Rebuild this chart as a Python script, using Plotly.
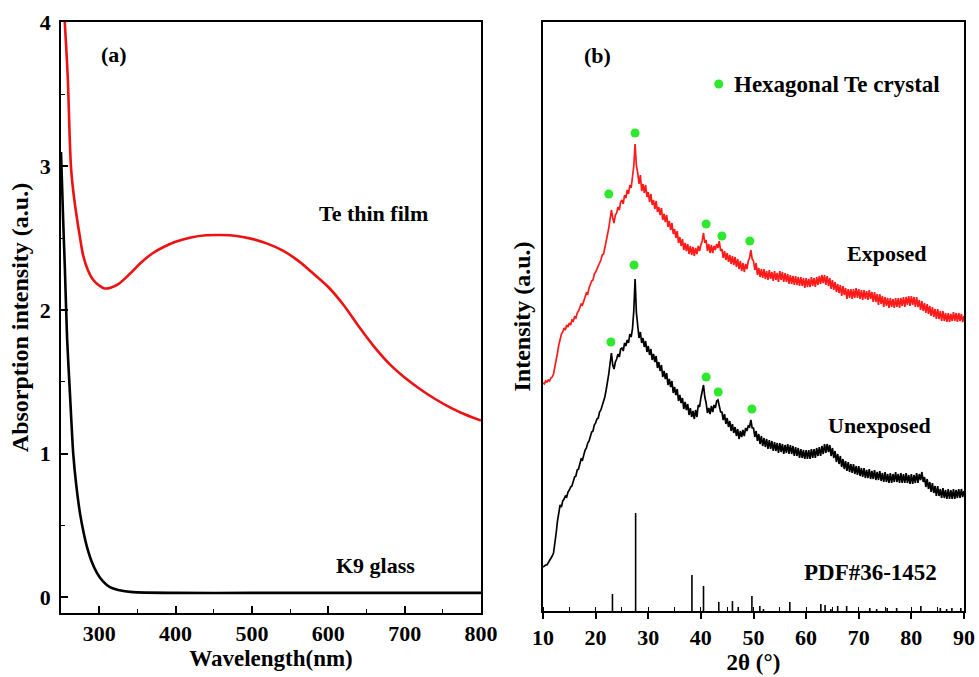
import numpy as np
import plotly.graph_objects as go

# ---------------- Panel (a): absorption spectra ----------------
te_wavelength = [252, 255, 257, 259, 263, 266, 270, 275, 279, 285, 292, 300, 307, 315, 325,
                 340, 355, 370, 385, 400, 420, 440, 460, 480, 500, 520, 540, 560, 580, 600,
                 620, 640, 660, 680, 700, 720, 740, 760, 780, 800]
te_absorption = [4.40, 4.00, 3.81, 3.60, 3.00, 2.83, 2.67, 2.50, 2.38, 2.28, 2.21, 2.17, 2.15,
                 2.155, 2.18, 2.25, 2.33, 2.395, 2.44, 2.475, 2.505, 2.52, 2.522, 2.515, 2.495,
                 2.462, 2.415, 2.345, 2.255, 2.16, 2.035, 1.885, 1.745, 1.625, 1.53, 1.45, 1.38,
                 1.32, 1.27, 1.23]

k9_wavelength = [250, 251.5, 253, 255, 258, 262, 266, 270, 275, 280, 284, 290, 297, 305, 314,
                 325, 344, 400, 500, 600, 700, 800]
k9_absorption = [3.10, 2.85, 2.60, 2.30, 1.80, 1.39, 1.00, 0.78, 0.58, 0.44, 0.35, 0.25, 0.17,
                 0.11, 0.07, 0.05, 0.035, 0.03, 0.03, 0.03, 0.03, 0.03]

# ---------------- Panel (b): XRD patterns (2θ from 10° to 90°, 0.25° steps) ----------------
two_theta = np.arange(10.0, 90.001, 0.25)

exposed = [
    228, 227, 230, 229, 231, 230, 233, 234, 237, 243, 251, 258, 266, 271, 277, 279,
    283, 281, 286, 284, 288, 286, 291, 290, 294, 293, 298, 300, 303, 307, 306, 311,
    314, 318, 317, 323, 326, 330, 331, 337, 339, 342, 345, 349, 351, 356, 357, 363,
    369, 374, 383, 392, 401, 393, 388, 396, 398, 404, 401, 409, 411, 407, 416, 413,
    421, 417, 426, 423, 433, 445, 467, 445, 438, 427, 436, 420, 427, 418, 426, 414,
    419, 409, 417, 406, 411, 402, 410, 399, 404, 396, 403, 391, 397, 389, 396, 384,
    390, 381, 388, 377, 382, 373, 380, 368, 374, 365, 372, 361, 368, 360, 367, 357,
    365, 356, 364, 355, 363, 357, 365, 360, 366, 370, 378, 368, 371, 360, 367, 358,
    366, 358, 365, 361, 367, 363, 370, 360, 362, 353, 360, 351, 358, 349, 356, 347,
    355, 346, 354, 344, 352, 342, 350, 340, 348, 339, 347, 342, 350, 353, 361, 352,
    350, 341, 348, 336, 343, 334, 342, 333, 342, 332, 340, 331, 341, 332, 339, 330,
    340, 331, 338, 329, 340, 331, 339, 329, 338, 329, 337, 327, 336, 327, 335, 326,
    335, 326, 334, 325, 334, 325, 333, 323, 333, 324, 332, 324, 334, 325, 333, 324,
    334, 326, 335, 327, 336, 328, 336, 326, 335, 325, 333, 322, 331, 321, 329, 319,
    327, 318, 326, 315, 325, 316, 323, 312, 322, 313, 322, 312, 322, 313, 323, 313,
    322, 312, 321, 311, 321, 312, 320, 311, 321, 312, 319, 309, 319, 309, 317, 306,
    317, 307, 315, 304, 314, 305, 313, 303, 313, 304, 312, 303, 313, 304, 313, 303,
    313, 305, 314, 304, 314, 306, 315, 305, 315, 306, 314, 304, 314, 304, 311, 301,
    310, 300, 308, 298, 307, 297, 305, 295, 304, 294, 302, 292, 302, 292, 300, 290,
    300, 290, 298, 289, 298, 289, 297, 290, 299, 290, 298, 289, 298, 290, 297, 289,
    295]

unexposed = [
    44, 45, 46, 46, 48, 50, 52, 55, 58, 66, 78, 90, 99, 106, 104, 110,
    112, 115, 114, 119, 121, 124, 125, 131, 134, 135, 141, 142, 147, 152, 151, 158,
    161, 163, 168, 170, 175, 179, 180, 186, 188, 192, 193, 199, 201, 205, 208, 214,
    221, 228, 237, 248, 258, 246, 242, 249, 252, 257, 254, 262, 263, 260, 268, 265,
    271, 268, 277, 274, 282, 300, 332, 298, 281, 273, 279, 268, 273, 264, 270, 259,
    265, 256, 262, 251, 257, 249, 255, 243, 249, 240, 246, 234, 240, 232, 238, 226,
    232, 224, 230, 218, 224, 216, 222, 210, 216, 208, 213, 202, 209, 201, 207, 196,
    203, 194, 200, 192, 201, 194, 206, 204, 213, 220, 226, 214, 208, 198, 203, 197,
    205, 199, 206, 203, 210, 211, 205, 199, 199, 191, 197, 187, 193, 184, 190, 180,
    187, 178, 184, 175, 182, 172, 180, 174, 181, 175, 183, 180, 185, 184, 191, 183,
    183, 174, 180, 170, 177, 167, 175, 165, 173, 164, 172, 162, 171, 162, 170, 160,
    169, 160, 168, 158, 168, 159, 167, 157, 166, 158, 167, 157, 166, 157, 165, 155,
    164, 155, 163, 153, 162, 153, 161, 152, 161, 152, 161, 152, 162, 153, 162, 153,
    163, 155, 164, 155, 165, 157, 167, 158, 167, 159, 166, 155, 163, 153, 160, 149,
    157, 147, 155, 144, 152, 142, 150, 140, 149, 139, 147, 138, 147, 137, 145, 136,
    145, 135, 143, 134, 143, 133, 141, 133, 142, 132, 140, 132, 141, 131, 139, 131,
    140, 130, 138, 129, 139, 129, 137, 128, 138, 128, 137, 129, 139, 129, 137, 128,
    138, 128, 137, 128, 138, 128, 136, 127, 137, 127, 136, 128, 138, 128, 137, 131,
    139, 129, 134, 124, 132, 122, 129, 119, 128, 118, 125, 115, 125, 115, 122, 113,
    123, 113, 121, 112, 122, 112, 121, 112, 122, 112, 121, 113, 122, 113, 122, 114,
    120]

pdf_positions = [23.2, 27.6, 38.3, 40.5, 43.4, 46.0, 47.1, 49.7, 51.2, 51.9, 56.9, 62.8, 63.6,
                 64.7, 66.0, 67.7, 72.1, 73.4, 75.4, 77.2, 81.8, 85.5, 86.7, 87.7, 89.4]
pdf_heights = [17, 98, 36, 25, 9, 10, 4, 15, 5, 2, 9, 7, 6, 2, 5, 5, 3, 2, 3, 3, 5, 3, 2, 3, 3]

exposed_dot_theta = [22.5, 27.5, 41.0, 44.0, 49.3]
exposed_dot_level = [417, 478, 387, 375, 370]
unexposed_dot_theta = [22.9, 27.3, 41.0, 43.3, 49.7]
unexposed_dot_level = [269, 346, 234, 219, 202]

FONT = "Liberation Serif"
GREEN = "#2ee82e"

# The page body margin is removed by a post script, so the figure fills the window.
W, H = 979, 677


def xdom(a, b):
    return [a / W, b / W]


def ydom(bottom, top):
    return [(H - bottom) / H, (H - top) / H]


fig = go.Figure()

fig.add_trace(go.Scatter(x=te_wavelength, y=te_absorption, mode="lines",
                         line=dict(color="#ee1111", width=2.6, shape="spline", smoothing=1.0),
                         xaxis="x", yaxis="y", showlegend=False))
fig.add_trace(go.Scatter(x=k9_wavelength, y=k9_absorption, mode="lines",
                         line=dict(color="black", width=2.6, shape="spline", smoothing=0.6),
                         xaxis="x", yaxis="y", showlegend=False))

# reference sticks
sx, sy = [], []
for p, h in zip(pdf_positions, pdf_heights):
    sx += [p, p, None]
    sy += [0, h, None]
fig.add_trace(go.Scatter(x=sx, y=sy, mode="lines", line=dict(color="black", width=1.6),
                         xaxis="x2", yaxis="y2", showlegend=False))
fig.add_trace(go.Scatter(x=two_theta, y=unexposed, mode="lines",
                         line=dict(color="black", width=1.7),
                         xaxis="x2", yaxis="y2", showlegend=False))
fig.add_trace(go.Scatter(x=two_theta, y=exposed, mode="lines",
                         line=dict(color="#ff1a1a", width=1.7),
                         xaxis="x2", yaxis="y2", showlegend=False))
fig.add_trace(go.Scatter(x=exposed_dot_theta + unexposed_dot_theta,
                         y=exposed_dot_level + unexposed_dot_level, mode="markers",
                         marker=dict(color=GREEN, size=9),
                         xaxis="x2", yaxis="y2", showlegend=False))
# legend dot
fig.add_trace(go.Scatter(x=[43.4], y=[527], mode="markers",
                         marker=dict(color=GREEN, size=9),
                         xaxis="x2", yaxis="y2", showlegend=False))

tickfont = dict(family=FONT, size=22, color="black", weight="bold")
titlefont = dict(family=FONT, size=23, color="black", weight="bold")

fig.update_layout(
    width=W, height=H,
    margin=dict(l=0, r=0, t=0, b=0, autoexpand=False),
    paper_bgcolor="white", plot_bgcolor="white",
    font=dict(family=FONT, color="black"),
    xaxis=dict(domain=xdom(61, 481), range=[250, 800], anchor="y", automargin=False,
               tick0=300, dtick=100, ticks="inside", ticklen=7, tickwidth=1.5,
               tickcolor="black", showline=True, linecolor="black", linewidth=1.8,
               mirror=True, showgrid=False, zeroline=False, tickfont=tickfont,
               ticklabeloverflow="allow",
               minor=dict(dtick=50, tick0=250, ticks="inside", ticklen=4, tickcolor="black",
                          tickwidth=1.2, showgrid=False),
               title=dict(text="Wavelength(nm)", font=titlefont, standoff=3)),
    yaxis=dict(domain=ydom(613, 22), range=[-0.11, 4.005], anchor="x", automargin=False,
               tick0=0, dtick=1, ticks="inside", ticklen=7, tickwidth=1.5,
               tickcolor="black", showline=True, linecolor="black", linewidth=1.8,
               mirror=True, showgrid=False, zeroline=False, tickfont=tickfont,
               ticklabelstandoff=4, ticklabeloverflow="allow",
               minor=dict(dtick=0.5, ticks="inside", ticklen=4, tickcolor="black",
                          tickwidth=1.2, showgrid=False),
               title=dict(text="Absorption intensity (a.u.)",
                          font=dict(family=FONT, size=24, color="black", weight="bold"),
                          standoff=4)),
    xaxis2=dict(domain=xdom(543, 964), range=[10, 90], anchor="y2", automargin=False,
                tick0=10, dtick=10, ticks="outside", ticklen=6, tickwidth=1.5,
                tickcolor="black", showline=True, linecolor="black", linewidth=1.8,
                mirror=True, showgrid=False, zeroline=False, tickfont=tickfont,
                ticklabeloverflow="allow",
                minor=dict(dtick=5, ticks="inside", ticklen=4, tickcolor="black",
                           tickwidth=1.2, showgrid=False),
                title=dict(text="2θ (°)", font=titlefont, standoff=3)),
    yaxis2=dict(domain=ydom(611, 22), range=[0, 589], anchor="x2", automargin=False,
                showticklabels=False, ticks="", showline=True, linecolor="black",
                linewidth=1.8, mirror=True, showgrid=False, zeroline=False,
                title=dict(text="Intensity (a.u.)",
                           font=dict(family=FONT, size=24, color="black", weight="bold"),
                           standoff=4)),
)

ann_font = dict(family=FONT, size=22, color="black", weight="bold")
annotations = [
    dict(text="(a)", x=319, y=3.78, xref="x", yref="y"),
    dict(text="Te thin film", x=659, y=2.67, xref="x", yref="y"),
    dict(text="K9 glass", x=662, y=0.22, xref="x", yref="y"),
    dict(text="(b)", x=20.45, y=556, xref="x2", yref="y2"),
    dict(text="Exposed", x=75.2, y=358, xref="x2", yref="y2"),
    dict(text="Unexposed", x=74.0, y=186, xref="x2", yref="y2"),
    dict(text="PDF#36-1452", x=72.3, y=39, xref="x2", yref="y2", size=23),
    dict(text="Hexagonal Te crystal", x=45.9, y=527, xref="x2", yref="y2", xanchor="left",
         size=23),
]
for a in annotations:
    a.setdefault("xanchor", "center")
    size = a.pop("size", 22)
    a.update(showarrow=False, yanchor="middle", font=dict(ann_font, size=size))
    fig.add_annotation(**a)

fig.write_html(
    "out.html",
    config={"displayModeBar": False},
    post_script="document.body.style.margin='0';document.body.style.overflow='hidden';",
)
